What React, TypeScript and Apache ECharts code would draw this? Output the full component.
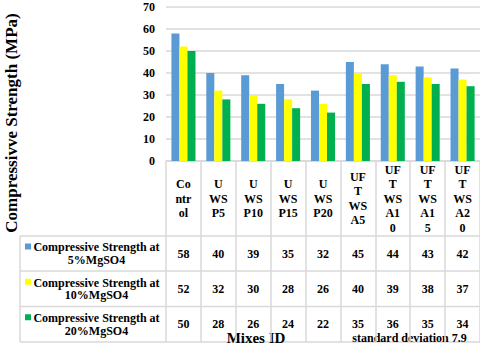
import React, { useEffect, useRef } from "react";
import * as echarts from "echarts";

const categories = ["Control", "UWSP5", "UWSP10", "UWSP15", "UWSP20", "UFTWSA5", "UFTWSA10", "UFTWSA15", "UFTWSA20"];
const headerLabels = [
  "Co\nntr\nol",
  "U\nWS\nP5",
  "U\nWS\nP10",
  "U\nWS\nP15",
  "U\nWS\nP20",
  "UF\nT\nWS\nA5",
  "UF\nT\nWS\nA1\n0",
  "UF\nT\nWS\nA1\n5",
  "UF\nT\nWS\nA2\n0",
];
const seriesNames = [
  "Compressive Strength at 5%MgSO4",
  "Compressive Strength at 10%MgSO4",
  "Compressive Strength at 20%MgSO4",
];
const strength5 = [58, 40, 39, 35, 32, 45, 44, 43, 42];
const strength10 = [52, 32, 30, 28, 26, 40, 39, 38, 37];
const strength20 = [50, 28, 26, 24, 22, 35, 36, 35, 34];
const yTicks = { min: 0, max: 70, interval: 10 };
const yTitle = "Compressivve Strength (MPa)";
const xTitle = "Mixes ID";
const note = "standard deviation 7.9";

const colors = ["#5B9BD5", "#FFFF00", "#00B050"];
const FONT = "Liberation Serif";
const GRID_LEFT = 166;
const GRID_TOP = 7;
const AXIS_Y = 161;
const TABLE_LEFT = 20;
const ROW_LINES = [236, 271, 306.5, 342];
const LINE_COLOR = "#D9D9D9";

export default function App() {
  const ref = useRef<HTMLDivElement>(null);

  useEffect(() => {
    document.body.style.margin = "0";
    const chart = echarts.init(ref.current!, null, { renderer: "svg" });
    const allSeries = [strength5, strength10, strength20];

    const rowAxis = (values: number[], center: number) => ({
      type: "category",
      gridIndex: 0,
      position: "bottom",
      data: values.map(String),
      axisLine: { show: false },
      axisTick: { show: false },
      splitLine: { show: false },
      axisLabel: {
        interval: 0,
        margin: center - AXIS_Y,
        verticalAlign: "middle",
        fontFamily: FONT,
        fontWeight: "bold",
        fontSize: 12,
        color: "#000",
      },
    });

    const rowCenters = ROW_LINES.slice(0, 3).map((y, i) => (y + ROW_LINES[i + 1]) / 2);

    const graphics: any[] = [];
    ROW_LINES.forEach((y) =>
      graphics.push({
        type: "line",
        shape: { x1: TABLE_LEFT, y1: y, x2: 480, y2: y },
        style: { stroke: LINE_COLOR, lineWidth: 1.5 },
      })
    );
    graphics.push({
      type: "line",
      shape: { x1: TABLE_LEFT, y1: ROW_LINES[0], x2: TABLE_LEFT, y2: ROW_LINES[3] },
      style: { stroke: LINE_COLOR, lineWidth: 1.5 },
    });
    seriesNames.forEach((name, i) => {
      const cy = rowCenters[i];
      graphics.push({
        type: "rect",
        shape: { x: 25, y: cy - 10, width: 6, height: 6 },
        style: { fill: colors[i] },
      });
      graphics.push({
        type: "text",
        x: 96.5,
        y: cy,
        style: {
          text: name.replace(" at ", " at\n"),
          fontFamily: FONT,
          fontWeight: "bold",
          fontSize: 12,
          lineHeight: 12.5,
          fill: "#000",
          align: "center",
          verticalAlign: "middle",
        },
      });
    });
    graphics.push({
      type: "text",
      x: 11,
      y: 123,
      rotation: Math.PI / 2,
      style: {
        text: yTitle,
        fontFamily: FONT,
        fontWeight: "bold",
        fontSize: 17,
        fill: "#000",
        align: "center",
        verticalAlign: "middle",
      },
    });
    graphics.push({
      type: "text",
      x: 256,
      y: 337.5,
      style: {
        text: xTitle,
        fontFamily: FONT,
        fontWeight: "bold",
        fontSize: 15,
        fill: "#000",
        align: "center",
        verticalAlign: "middle",
      },
    });
    graphics.push({
      type: "text",
      x: 409.5,
      y: 338,
      style: {
        text: note,
        fontFamily: FONT,
        fontWeight: "bold",
        fontSize: 12,
        fill: "#000",
        align: "center",
        verticalAlign: "middle",
      },
    });

    chart.setOption({
      animation: false,
      backgroundColor: "#fff",
      textStyle: { fontFamily: FONT },
      grid: { left: GRID_LEFT, right: 0, top: GRID_TOP, bottom: 345 - AXIS_Y, containLabel: false },
      xAxis: [
        {
          type: "category",
          data: headerLabels,
          axisLine: { show: true, lineStyle: { color: LINE_COLOR, width: 1.5 } },
          axisTick: {
            show: true,
            interval: 0,
            length: ROW_LINES[3] - AXIS_Y,
            lineStyle: { color: LINE_COLOR, width: 1.5 },
          },
          axisLabel: {
            interval: 0,
            margin: (AXIS_Y + ROW_LINES[0]) / 2 - AXIS_Y,
            verticalAlign: "middle",
            lineHeight: 14.5,
            fontFamily: FONT,
            fontWeight: "bold",
            fontSize: 12,
            color: "#000",
          },
        },
        rowAxis(strength5, rowCenters[0]),
        rowAxis(strength10, rowCenters[1]),
        rowAxis(strength20, rowCenters[2]),
      ],
      yAxis: {
        type: "value",
        min: yTicks.min,
        max: yTicks.max,
        interval: yTicks.interval,
        axisLine: { show: false },
        axisTick: { show: false },
        splitLine: { lineStyle: { color: LINE_COLOR, width: 1.5 } },
        axisLabel: {
          margin: 11,
          fontFamily: FONT,
          fontWeight: "bold",
          fontSize: 12,
          color: "#000",
        },
      },
      series: allSeries.map((vals, i) => ({
        type: "bar",
        name: seriesNames[i],
        xAxisIndex: 0,
        data: vals,
        barGap: "0%",
        barCategoryGap: "31%",
        itemStyle: { color: colors[i] },
      })),
      graphic: graphics,
    });
    (chart as any).__categories = categories;
    return () => chart.dispose();
  }, []);

  return (
    <div
      ref={ref}
      style={{ position: "absolute", left: 0, top: 0, width: 480, height: 345, background: "#fff" }}
    />
  );
}
